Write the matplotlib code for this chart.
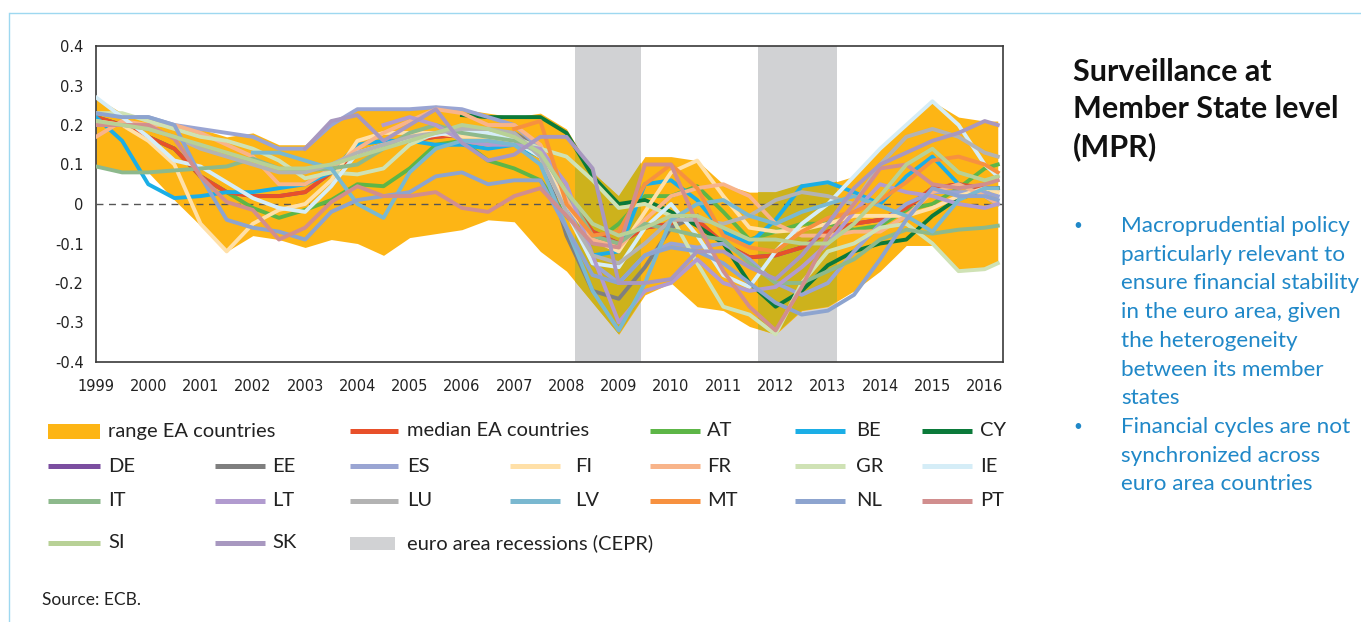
import numpy as np
import matplotlib.pyplot as plt
from matplotlib.lines import Line2D
from matplotlib.patches import Rectangle

nan = np.nan

# half-yearly readings, 1999 to 2016 (last point 2016Q2)
dates = list(np.arange(1999.0, 2016.01, 0.5)) + [2016.25]

range_high = [0.27, 0.23, 0.22, 0.20, 0.19, 0.17, 0.18, 0.15, 0.15, 0.21,
              0.24, 0.24, 0.24, 0.25, 0.24, 0.23, 0.22, 0.23, 0.19, 0.08,
              0.02, 0.12, 0.12, 0.11, 0.05, 0.03, 0.03, 0.05, 0.05, 0.07,
              0.14, 0.20, 0.26, 0.22, 0.21, 0.21]
range_low = [0.10, 0.08, 0.08, 0.01, -0.055, -0.12, -0.08, -0.09, -0.11, -0.09,
             -0.10, -0.13, -0.085, -0.075, -0.065, -0.04, -0.045, -0.12, -0.17, -0.25,
             -0.33, -0.23, -0.20, -0.26, -0.27, -0.31, -0.33, -0.27, -0.26, -0.22,
             -0.17, -0.105, -0.105, -0.17, -0.165, -0.15]
median = [0.22, 0.20, 0.17, 0.14, 0.07, 0.03, 0.02, 0.02, 0.03, 0.08,
          0.13, 0.15, 0.16, 0.17, 0.175, 0.18, 0.17, 0.12, 0.02, -0.07,
          -0.10, -0.06, -0.05, -0.04, -0.10, -0.135, -0.13, -0.11, -0.07, -0.05,
          -0.04, -0.01, 0.04, 0.05, 0.04, 0.04]

AT = [0.22, 0.20, 0.17, 0.14, 0.07, 0.03, -0.01, -0.035, -0.015, 0.01,
      0.05, 0.045, 0.09, 0.15, 0.16, 0.11, 0.09, 0.06, -0.03, -0.10,
      -0.05, 0.02, 0.02, 0.045, -0.02, -0.09, -0.07, -0.05, -0.05, -0.065,
      -0.055, -0.015, 0.0, 0.04, 0.09, 0.10]
BE = [0.22, 0.16, 0.05, 0.015, 0.02, 0.03, 0.03, 0.04, 0.05, 0.08,
      0.15, 0.16, 0.16, 0.15, 0.15, 0.14, 0.15, 0.12, -0.02, -0.13,
      -0.12, 0.05, 0.06, 0.01, -0.07, -0.10, -0.04, 0.045, 0.055, 0.03,
      0.0, 0.07, 0.12, 0.05, 0.02, 0.0]
CY = [nan, nan, nan, nan, nan, nan, nan, nan, nan, nan,
      nan, nan, nan, nan, 0.225, 0.22, 0.22, 0.22, 0.18, 0.07,
      0.0, 0.01, -0.02, -0.055, -0.10, -0.20, -0.26, -0.22, -0.155, -0.12,
      -0.10, -0.09, -0.03, 0.015, 0.03, 0.04]
DE = [0.22, 0.20, 0.17, 0.14, 0.07, 0.03, 0.02, 0.02, 0.03, 0.08,
      0.13, 0.15, 0.16, 0.17, 0.175, 0.18, 0.17, 0.12, 0.02, -0.07,
      -0.10, -0.06, -0.05, -0.04, -0.10, -0.135, -0.13, -0.11, -0.07, -0.05,
      -0.04, -0.01, 0.04, 0.05, 0.04, 0.04]
EE = [nan, nan, nan, nan, nan, nan, nan, nan, nan, nan,
      nan, nan, nan, nan, nan, 0.18, 0.18, 0.14, -0.08, -0.22,
      -0.24, -0.16, -0.06, -0.03, nan, nan, nan, nan, nan, nan,
      nan, nan, nan, nan, nan, nan]
ES = [0.23, 0.22, 0.22, 0.20, 0.19, 0.18, 0.17, 0.14, 0.14, 0.20,
      0.24, 0.24, 0.24, 0.245, 0.24, 0.22, 0.20, 0.14, 0.0, -0.15,
      -0.20, -0.13, -0.10, -0.11, -0.10, -0.14, -0.20, -0.23, -0.20, -0.12,
      -0.05, 0.0, 0.03, 0.03, 0.03, 0.02]
FI = [0.21, 0.20, 0.16, 0.10, -0.05, -0.12, -0.05, -0.015, 0.0, 0.06,
      0.16, 0.18, 0.18, 0.18, 0.17, 0.17, 0.16, 0.12, 0.0, -0.09,
      -0.12, -0.02, 0.08, 0.11, 0.02, -0.06, -0.07, -0.065, -0.05, -0.03,
      -0.03, -0.03, -0.01, 0.02, 0.04, 0.03]
FR = [0.17, 0.21, 0.20, 0.20, 0.18, 0.15, 0.12, 0.05, 0.05, 0.09,
      0.14, 0.18, 0.21, 0.24, 0.23, 0.20, 0.20, 0.15, 0.02, -0.09,
      -0.11, -0.04, 0.02, 0.04, 0.05, 0.02, -0.05, -0.08, -0.08, -0.07,
      -0.07, -0.03, 0.03, 0.05, 0.02, 0.0]
GR = [0.23, 0.23, 0.21, 0.19, 0.17, 0.16, 0.14, 0.11, 0.065, 0.08,
      0.075, 0.09, 0.15, 0.18, 0.18, 0.18, 0.17, 0.14, 0.12, 0.06,
      -0.01, 0.0, -0.03, -0.15, -0.26, -0.28, -0.33, -0.20, -0.12, -0.10,
      -0.06, -0.05, -0.10, -0.17, -0.165, -0.15]
IE = [0.27, 0.22, 0.17, 0.11, 0.095, 0.055, 0.015, -0.01, -0.02, 0.045,
      0.13, 0.15, 0.165, 0.175, 0.185, 0.18, 0.16, 0.12, -0.02, -0.15,
      -0.16, -0.06, 0.0, -0.08, -0.18, -0.21, -0.12, -0.05, 0.0, 0.07,
      0.14, 0.20, 0.26, 0.20, 0.10, 0.07]
IT = [0.095, 0.08, 0.08, 0.085, 0.09, 0.095, 0.115, 0.09, 0.085, 0.09,
      0.10, 0.14, 0.18, 0.20, 0.18, 0.17, 0.16, 0.13, 0.03, -0.08,
      -0.10, -0.05, -0.065, -0.08, -0.09, -0.15, -0.20, -0.20, -0.17, -0.14,
      -0.09, -0.065, -0.075, -0.065, -0.06, -0.055]
LT = [nan, nan, nan, nan, nan, nan, nan, nan, nan, nan,
      nan, 0.20, 0.22, 0.20, 0.16, 0.15, 0.15, 0.14, 0.05, -0.13,
      -0.30, -0.22, -0.20, -0.14, -0.20, -0.22, -0.21, -0.16, -0.10, -0.02,
      0.05, 0.03, 0.02, 0.0, -0.01, 0.0]
LU = [0.20, 0.20, 0.19, 0.17, 0.14, 0.12, 0.10, 0.08, 0.08, 0.10,
      0.13, 0.15, 0.17, 0.18, 0.19, 0.19, 0.18, 0.12, -0.02, -0.13,
      -0.15, -0.10, -0.04, -0.04, -0.05, -0.03, 0.01, 0.03, 0.02, 0.0,
      0.10, 0.17, 0.19, 0.17, 0.13, 0.12]
LV = [nan, nan, nan, nan, nan, nan, 0.13, 0.13, 0.11, 0.09,
      0.0, -0.035, 0.08, 0.14, 0.16, 0.16, 0.15, 0.10, -0.06, -0.22,
      -0.32, -0.20, -0.04, 0.0, 0.01, -0.03, -0.05, -0.02, 0.0, 0.02,
      -0.005, -0.03, -0.07, 0.01, 0.04, 0.04]
MT = [nan, nan, nan, nan, nan, nan, nan, nan, nan, nan,
      nan, nan, nan, nan, nan, nan, 0.19, 0.21, 0.0, -0.08,
      -0.07, 0.05, 0.10, 0.04, -0.08, -0.11, -0.12, -0.07, -0.035, -0.02,
      0.01, 0.055, 0.11, 0.12, 0.10, 0.08]
NL = [0.23, 0.22, 0.22, 0.20, 0.07, -0.04, -0.06, -0.07, -0.09, -0.02,
      0.01, 0.02, 0.03, 0.07, 0.08, 0.05, 0.06, 0.06, -0.06, -0.18,
      -0.20, -0.13, -0.11, -0.12, -0.15, -0.20, -0.25, -0.28, -0.27, -0.23,
      -0.14, -0.04, 0.04, 0.02, 0.02, 0.01]
PT = [0.20, 0.20, 0.20, 0.165, 0.07, 0.005, -0.015, -0.09, -0.06, 0.005,
      0.045, 0.02, 0.02, 0.03, -0.01, -0.02, 0.02, 0.04, -0.03, -0.10,
      -0.11, 0.10, 0.10, -0.05, -0.17, -0.26, -0.32, -0.21, -0.08, 0.0,
      0.09, 0.10, 0.05, 0.04, 0.05, 0.06]
SI = [0.21, 0.20, 0.19, 0.17, 0.15, 0.13, 0.11, 0.09, 0.09, 0.10,
      0.12, 0.14, 0.16, 0.18, 0.20, 0.19, 0.17, 0.13, 0.03, -0.05,
      -0.08, -0.06, -0.03, -0.03, -0.06, -0.09, -0.09, -0.10, -0.10, -0.05,
      0.02, 0.10, 0.14, 0.08, 0.06, 0.07]
SK = [nan, nan, nan, nan, nan, nan, nan, nan, 0.14, 0.21,
      0.225, 0.16, 0.20, 0.24, 0.155, 0.11, 0.125, 0.17, 0.17, 0.09,
      -0.20, -0.20, -0.19, -0.12, -0.12, -0.16, -0.19, -0.13, -0.05, 0.04,
      0.10, 0.13, 0.16, 0.18, 0.21, 0.20]

recessions = [(2008.16, 2009.42), (2011.66, 2013.17)]

series = {"AT": AT, "BE": BE, "CY": CY, "DE": DE, "EE": EE, "ES": ES, "FI": FI,
          "FR": FR, "GR": GR, "IE": IE, "IT": IT, "LT": LT, "LU": LU, "LV": LV,
          "MT": MT, "NL": NL, "PT": PT, "SI": SI, "SK": SK}
colors = {"AT": "#5db647", "BE": "#1baee6", "CY": "#0b7a3a", "DE": "#7b4ea0",
          "EE": "#7f7f7f", "ES": "#9aa5d3", "FI": "#ffe0a8", "FR": "#f8b48a",
          "GR": "#cfe2b5", "IE": "#d5edf7", "IT": "#8db98c", "LT": "#b19bcf",
          "LU": "#b3b3b3", "LV": "#7ab8d0", "MT": "#f7913f", "NL": "#8da4cf",
          "PT": "#d18e8e", "SI": "#b8d196", "SK": "#a898c0"}
range_col = "#fdb515"
median_col = "#e8502a"
rec_col = "#d1d2d4"
rec_range_col = "#cdb21c"
blue_txt = "#2088c8"

W, H = 1361, 622
fig = plt.figure(figsize=(W / 100, H / 100), dpi=100)
ax = fig.add_axes([96 / W, 1 - 362 / H, 907 / W, 316 / H])

for a, b in recessions:
    ax.axvspan(a, b, color=rec_col, lw=0, zorder=1)
band = ax.fill_between(dates, range_low, range_high, color=range_col, lw=0, zorder=2)
# range inside the recession bands is darker
clip = band.get_paths()[0]
for a, b in recessions:
    sp = ax.axvspan(a, b, color=rec_range_col, lw=0, zorder=2.1)
    sp.set_clip_path(clip, band.get_transform())

ax.axhline(0, color="#555555", lw=1, ls=(0, (5, 4)), zorder=3)

LW = 2.8
order = ["DE", "AT"]
ax.plot(dates, DE, color=colors["DE"], lw=LW, zorder=4)
ax.plot(dates, AT, color=colors["AT"], lw=LW, zorder=4)
ax.plot(dates, median, color=median_col, lw=LW, zorder=4)
for c in series:
    if c in order:
        continue
    ax.plot(dates, series[c], color=colors[c], lw=LW, zorder=4)

ax.set_xlim(1999, 2016.35)
ax.set_ylim(-0.4, 0.4)
years = list(range(1999, 2017))
ax.set_xticks(years)
ax.set_xticklabels([str(y) for y in years])
yt = [-0.4, -0.3, -0.2, -0.1, 0, 0.1, 0.2, 0.3, 0.4]
ax.set_yticks(yt)
ax.set_yticklabels(["0" if v == 0 else ("%.1f" % v) for v in yt])
ax.tick_params(length=0, labelsize=10.5, colors="#222222")
ax.tick_params(axis="y", pad=9)
ax.tick_params(axis="x", pad=12)
for s in ax.spines.values():
    s.set_color("#3a3a3a")
    s.set_linewidth(1.2)

# legend, laid out like the original (irregular columns)
def fx(x):
    return x / W

def fy(y):
    return 1 - y / H

col_h = [(48, 100, 108), (215, 265, 272), (350, 398, 407), (510, 560, 575),
         (650, 700, 707), (795, 845, 856), (922, 972, 980)]
row_y = [431, 466, 501, 543]
legend_items = [
    (0, 0, "patch", range_col, "range EA countries"),
    (0, 2, "line", median_col, "median EA countries"),
    (0, 4, "line", colors["AT"], "AT"), (0, 5, "line", colors["BE"], "BE"),
    (0, 6, "line", colors["CY"], "CY"),
    (1, 0, "line", colors["DE"], "DE"), (1, 1, "line", colors["EE"], "EE"),
    (1, 2, "line", colors["ES"], "ES"), (1, 3, "line", colors["FI"], "FI"),
    (1, 4, "line", colors["FR"], "FR"), (1, 5, "line", colors["GR"], "GR"),
    (1, 6, "line", colors["IE"], "IE"),
    (2, 0, "line", colors["IT"], "IT"), (2, 1, "line", colors["LT"], "LT"),
    (2, 2, "line", colors["LU"], "LU"), (2, 3, "line", colors["LV"], "LV"),
    (2, 4, "line", colors["MT"], "MT"), (2, 5, "line", colors["NL"], "NL"),
    (2, 6, "line", colors["PT"], "PT"),
    (3, 0, "line", colors["SI"], "SI"), (3, 1, "line", colors["SK"], "SK"),
    (3, 2, "patch", rec_col, "euro area recessions (CEPR)"),
]
for r, c, kind, col, lab in legend_items:
    x0, x1, xt = col_h[c]
    y = row_y[r]
    if kind == "patch":
        h = 15 if lab.startswith("range") else 13
        w = x1 - x0 if lab.startswith("range") else 45
        fig.add_artist(Rectangle((fx(x0), fy(y + h / 2)), w / W, h / H,
                                 transform=fig.transFigure, color=col, lw=0))
    else:
        fig.add_artist(Line2D([fx(x0), fx(x1)], [fy(y), fy(y)],
                              transform=fig.transFigure, color=col, lw=3.6,
                              solid_capstyle="butt"))
    fig.text(fx(xt), fy(y), lab, fontsize=14.5, family="Lato",
             color="#222222", va="center", ha="left")

fig.text(fx(42), fy(600), "Source: ECB.", fontsize=12.5, family="Lato",
         color="#222222", va="center", ha="left")

# right hand panel
title_lines = ["Surveillance at", "Member State level", "(MPR)"]
for i, t in enumerate(title_lines):
    fig.text(fx(1073), fy(72 + 37.5 * i), t, fontsize=22, family="Lato",
             weight="bold", color="#111111", va="center", ha="left")

bullet_lines = ["Macroprudential policy", "particularly relevant to",
                "ensure financial stability", "in the euro area, given",
                "the heterogeneity", "between its member", "states",
                "Financial cycles are not", "synchronized across",
                "euro area countries"]
bullet_starts = [0, 7]
for i, t in enumerate(bullet_lines):
    y = 226 + 28.7 * i
    fig.text(fx(1121), fy(y), t, fontsize=16.2, family="Lato", color=blue_txt,
             va="center", ha="left")
    if i in bullet_starts:
        fig.text(fx(1073), fy(y), "\u2022", fontsize=11, family="Lato",
                 color=blue_txt, va="center", ha="left")

# thin frame lines of the slide
frame_col = "#9ed8f0"
fig.add_artist(Line2D([fx(10), 1], [fy(13), fy(13)], transform=fig.transFigure,
                      color=frame_col, lw=1))
fig.add_artist(Line2D([fx(9), fx(9)], [fy(13), 0], transform=fig.transFigure,
                      color=frame_col, lw=1))

fig.savefig("out.png", dpi=100)
